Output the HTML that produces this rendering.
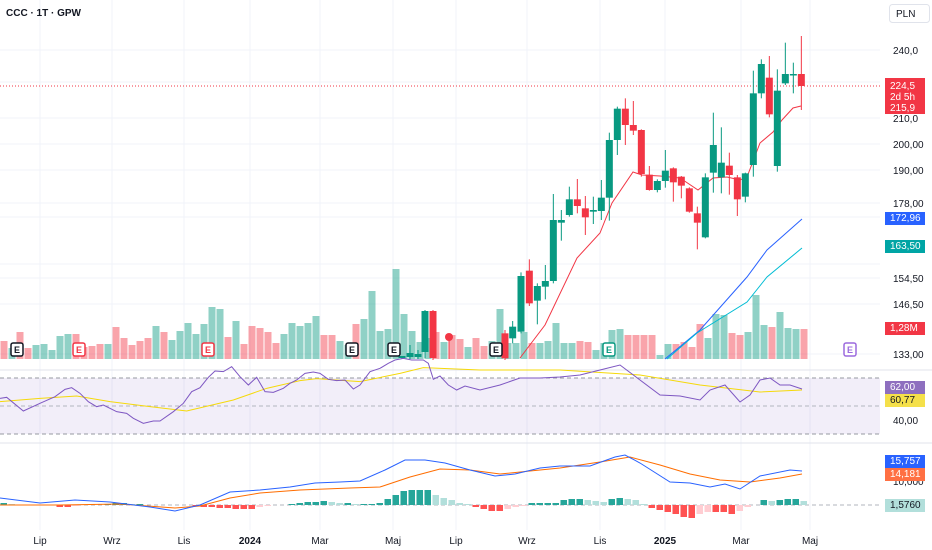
<!DOCTYPE html>
<html><head><meta charset="utf-8"><style>
body{margin:0;background:#fff;font-family:"Liberation Sans",sans-serif}
svg{display:block}
text{font-family:"Liberation Sans",sans-serif}
</style></head><body>
<svg id="s" width="932" height="550" xmlns="http://www.w3.org/2000/svg"></svg>
<script>
const S=document.getElementById('s');let h='';
const G='#089981',R='#f23645',GV='rgba(8,153,129,0.45)',RV='rgba(242,54,69,0.45)';
function L(x1,y1,x2,y2,c,w,d){h+=`<line x1="${x1}" y1="${y1}" x2="${x2}" y2="${y2}" stroke="${c}" stroke-width="${w||1}" ${d?`stroke-dasharray="${d}"`:''}/>`}
function Rc(x,y,w,hh,c){h+=`<rect x="${x}" y="${y}" width="${w}" height="${hh}" fill="${c}"/>`}
function T(x,y,t,c,s,a,b){h+=`<text x="${x}" y="${y}" fill="${c||'#131722'}" font-size="${s||11}" ${a?`text-anchor="${a}"`:''} ${b?'font-weight="bold"':''}>${t}</text>`}
function P(pts,c,w){h+=`<polyline fill="none" stroke="${c}" stroke-width="${w||1}" points="${pts.map(p=>p.join(',')).join(' ')}"/>`}
// grid
[50,82,118,144,170,203,217,264,278,304,354].forEach(y=>L(0,y,880,y,'#f0f3fa'));
[40,112,184,250,320,393,456,527,600,665,741,810].forEach(x=>L(x,0,x,530,'#f0f3fa'));
// RSI bg
Rc(0,378,880,56,'rgba(126,87,194,0.1)');
L(0,378,880,378,'#9598a1',1,'4 3');L(0,406,880,406,'#b2b5be',1,'4 3');L(0,434,880,434,'#9598a1',1,'4 3');
L(0,370,932,370,'#e0e3eb');L(0,443,932,443,'#e0e3eb');L(0,505,880,505,'#b2b5be',1,'4 3');
// volume
const vz=[[18,'r'],[11,'g'],[27,'r'],[11,'r'],[14,'g'],[15,'g'],[9,'g'],[23,'g'],[25,'g'],[25,'r'],[12,'r'],[13,'r'],[15,'r'],[15,'g'],[32,'r'],[21,'r'],[14,'r'],[18,'r'],[21,'r'],[33,'g'],[27,'r'],[19,'g'],[28,'g'],[36,'g'],[25,'g'],[35,'g'],[52,'g'],[50,'g'],[22,'r'],[38,'g'],[15,'r'],[33,'r'],[31,'r'],[27,'r'],[16,'r'],[25,'g'],[36,'g'],[33,'g'],[36,'g'],[43,'g'],[24,'r'],[24,'r'],[18,'g'],[14,'g'],[35,'r'],[40,'g'],[68,'g'],[28,'g'],[30,'g'],[90,'g'],[45,'g'],[28,'g'],[17,'g'],[21,'g'],[27,'r'],[17,'g'],[24,'r'],[20,'r'],[12,'g'],[21,'r'],
[13,'r'],[18,'g'],[50,'g'],[16,'g'],[16,'g'],[27,'g'],[16,'r'],[16,'g'],[18,'g'],[36,'g'],[16,'g'],[16,'g'],[18,'r'],[17,'r'],[9,'g'],[16,'g'],[29,'g'],[30,'g'],[24,'r'],[24,'r'],[24,'r'],[24,'r'],[4,'g'],[15,'g'],[15,'r'],[17,'r'],[12,'r'],[35,'r'],[21,'g'],[45,'g'],[44,'g'],[26,'r'],[24,'r'],[27,'g'],[64,'g'],[34,'g'],[32,'r'],[47,'g'],[31,'g'],[30,'g'],[30,'r']];
vz.forEach((v,i)=>Rc(i*8+0.5,359-v[0],7,v[0],v[1]=='g'?GV:RV));
// MAs
P([[665,359],[700,330],[747,277],[767,250],[802,219]],'#2962ff');
P([[667,359],[697,333],[747,302],[767,277],[802,248]],'#00bcd4');
P([[520,358],[545,325],[577,258],[600,233],[612,203],[633,172],[642,175],[660,176],[680,178],[698,190],[713,178],[727,177],[740,180],[747,177],[760,143],[773,132],[782,120],[793,108],[801,106]],'#f23645');
L(0,86,880,86,R,1,'1 2');
// candles
const cz=[[75,910,985,900,990],[98,925,890,873,940],[123,905,738,727,910],[148,722,820,688,828],[172,812,768,760,883],[196,770,753,705,808],[220,753,570,492,760],[244,578,570,540,632],[268,555,508,470,560],[292,508,528,447,550],[316,535,562,498,615],[340,545,540,500,582],[364,543,503,450,570],[388,503,330,308,572],[412,330,236,230,375],[436,236,285,205,345],[460,285,302,213,315],[484,300,432,298,440],[508,434,480,408,482],[532,480,453,448,487],[556,453,422,360,473],[580,415,457,412,515],[604,440,467,438,505],[628,475,545,472,548],[652,550,578,530,658],[676,622,442,430,625],[700,428,345,248,488],[724,442,398,292,490],[748,407,435,368,494],[772,442,508,435,558],[796,500,430,428,517],[820,405,190,122,440],[844,190,102,88,205],[868,143,253,78,262],[892,408,182,118,425],[916,160,132,38,165],[940,135,132,98,190],[964,132,168,18,240]];
function candle(x,o,c,hi,lo){const col=c<o?G:R;L(x,hi,x,lo,col);Rc(x-3.5,Math.min(o,c),7,Math.max(1.5,Math.abs(o-c)),col)}
cz.forEach(k=>candle(480+k[0]/3,30+k[1]/3,30+k[2]/3,30+k[3]/3,30+k[4]/3));
candle(402,358,356,356,359);candle(410,357,353,345,359);candle(418,357,354,350,359);
candle(425,352,311,310,358);candle(433,311,358,310,360);
h+=`<circle cx="449" cy="337" r="4" fill="${R}"/>`;L(449,337,449,359,R);
// E markers
[[17,'#131722'],[79,R],[208,R],[352,'#131722'],[394,'#131722'],[496,'#131722'],[609,G],[850,'#9c6ade']].forEach(e=>{h+=`<rect x="${e[0]-6}" y="${343}" width="12" height="13" rx="2" fill="#fff" stroke="${e[1]}" stroke-width="1.5"/>`;T(e[0],353,'E',e[1],9,'middle',1)});
// RSI
const rz=[[0,325],[20,322],[70,363],[120,340],[165,320],[195,298],[215,293],[240,310],[265,335],[290,350],[310,345],[350,365],[380,370],[400,385],[430,400],[460,393],[480,393],[520,365],[550,340],[575,305],[600,293],[625,262],[645,243],[670,245],[695,230],[720,260],[745,285],[770,262],[795,305],[820,307],[850,295],[870,280],[890,270],[915,250],[940,246],[960,250],[985,268],[1010,272],[1035,270],[1060,297],[1080,285],[1110,245],[1140,235],[1165,220],[1185,210],[1210,205],[1235,210],[1270,210],[1285,220],[1300,268],[1320,258],[1345,285],[1370,300],[1395,288],[1440,300]].map(p=>[p[0]/3,290+p[1]/3]);
const rsi=rz.concat([[500,385],[520,378],[540,378],[560,377],[580,375],[600,370],[620,365],[640,380],[660,395],[680,396],[700,400],[710,390],[725,385],[740,402],[750,395],[760,380],[770,378],[780,385],[790,385],[802,389]]);
const yz=[[0,335],[120,325],[230,318],[330,335],[450,350],[560,363],[700,330],[800,295],[900,272],[950,266],[1080,275],[1200,250],[1270,233],[1440,240]].map(p=>[p[0]/3,290+p[1]/3]).concat([[560,370],[640,375],[700,385],[760,392],[802,390]]);
P(yz,'#f5d90a');P(rsi,'#7e57c2');
// MACD hist
const hz=[[0,2],[8,1],[16,0],[24,0],[32,0],[40,0],[48,0],[56,-2],[64,-2],[72,-1],[80,0],[88,0],[96,0],[104,1],[112,2],[120,2],[128,1],[136,1],[144,0],[152,0],[160,0],[168,0],[176,0],[184,0],[192,-1],[200,-2],[208,-2],[216,-3],[224,-3],[232,-4],[240,-4],[248,-4],[256,-2],[264,-1],[272,0],[280,0],[288,1],[296,2],[304,3],[312,3],[320,4],[328,3],[336,2],[344,2],[352,1],[360,1],[368,1],[376,2],[384,6],[392,10],[400,14],[408,15],[416,15],[424,15],[432,10],[440,7],[448,5],[456,2],[464,1],[472,-2],[480,-4],[488,-6],[496,-6],[504,-4],[512,-2],[520,-1],[528,2],[536,2],[544,2],[552,2],[560,5],[568,6],[576,6],[584,5],[592,4],[600,3],[608,6],[616,7],[624,6],[632,5],[640,1],[648,-3],[656,-5],[664,-7],[672,-9],[680,-12],[688,-13],[696,-9],[704,-7],[712,-7],[720,-7],[728,-9],[736,-6],[744,-2],[752,0],[760,5],[768,4],[776,5],[784,6],[792,6],[800,4]];
hz.forEach((b,i)=>{const v=b[1];if(!v)return;const prev=i?hz[i-1][1]:0;const inc=Math.abs(v)>=Math.abs(prev);const c=v>0?(inc?'#26a69a':'#b2dfdb'):(inc?'#ff5252':'#ffcdd2');Rc(b[0]+0.5,v>0?505-v:505,6.5,Math.abs(v),c)});
P([[0,505],[60,505],[120,504],[175,508],[200,506],[230,498],[260,493],[300,490],[350,488],[380,487],[410,477],[440,469],[470,470],[500,474],[530,471],[560,468],[600,462],[630,457],[660,465],[690,474],[720,480],[750,482],[780,478],[802,474]],'#ff6d00');
P([[0,498],[40,503],[75,500],[110,502],[150,507],[175,511],[200,505],[230,492],[260,490],[290,487],[315,483],[340,482],[360,481],[385,470],[405,460],[425,460],[445,463],[470,470],[495,476],[515,474],[540,468],[560,466],[590,466],[615,457],[625,455],[640,463],[670,482],[690,483],[710,487],[725,484],[740,489],[760,476],[790,470],[802,471]],'#2962ff');
// axis labels
[['240,0',54],['210,0',122],['200,00',148],['190,00',174],['178,00',207],['170,00',221],['154,50',282],['146,50',308],['133,00',358],['40,00',424],['10,000',485]].forEach(a=>T(893,a[1],a[0],'#131722',10));
function tag(y,hh,c,t,tc){Rc(885,y,40,hh,c);T(890,y+hh-4,t,tc||'#fff',10)}
Rc(885,78,40,36,R);T(890,89,'224,5','#fff',10);T(890,100,'2d 5h','#fff',10);T(890,111,'215,9','#fff',10);
tag(212,13,'#2962ff','172,96');tag(240,13,'#00a5a5','163,50');tag(322,13,R,'1,28M');
tag(381,13,'#8e6fbf','62,00');tag(394,13,'#f5e04a','60,77','#131722');
tag(455,13,'#2962ff','15,757');tag(468,13,'#ff7043','14,181');tag(499,13,'#b2dfdb','1,5760','#131722');
h+=`<rect x="889.5" y="4.5" width="40" height="18" rx="3" fill="#fff" stroke="#e0e3eb"/>`;T(896,17,'PLN','#131722',10);
[['Lip',40],['Wrz',112],['Lis',184],['2024',250,1],['Mar',320],['Maj',393],['Lip',456],['Wrz',527],['Lis',600],['2025',665,1],['Mar',741],['Maj',810]].forEach(a=>T(a[1],544,a[0],'#131722',10,'middle',a[2]));
T(6,16,'CCC · 1T · GPW','#131722',10,null,1);
S.innerHTML=h;
</script>
</body></html>
